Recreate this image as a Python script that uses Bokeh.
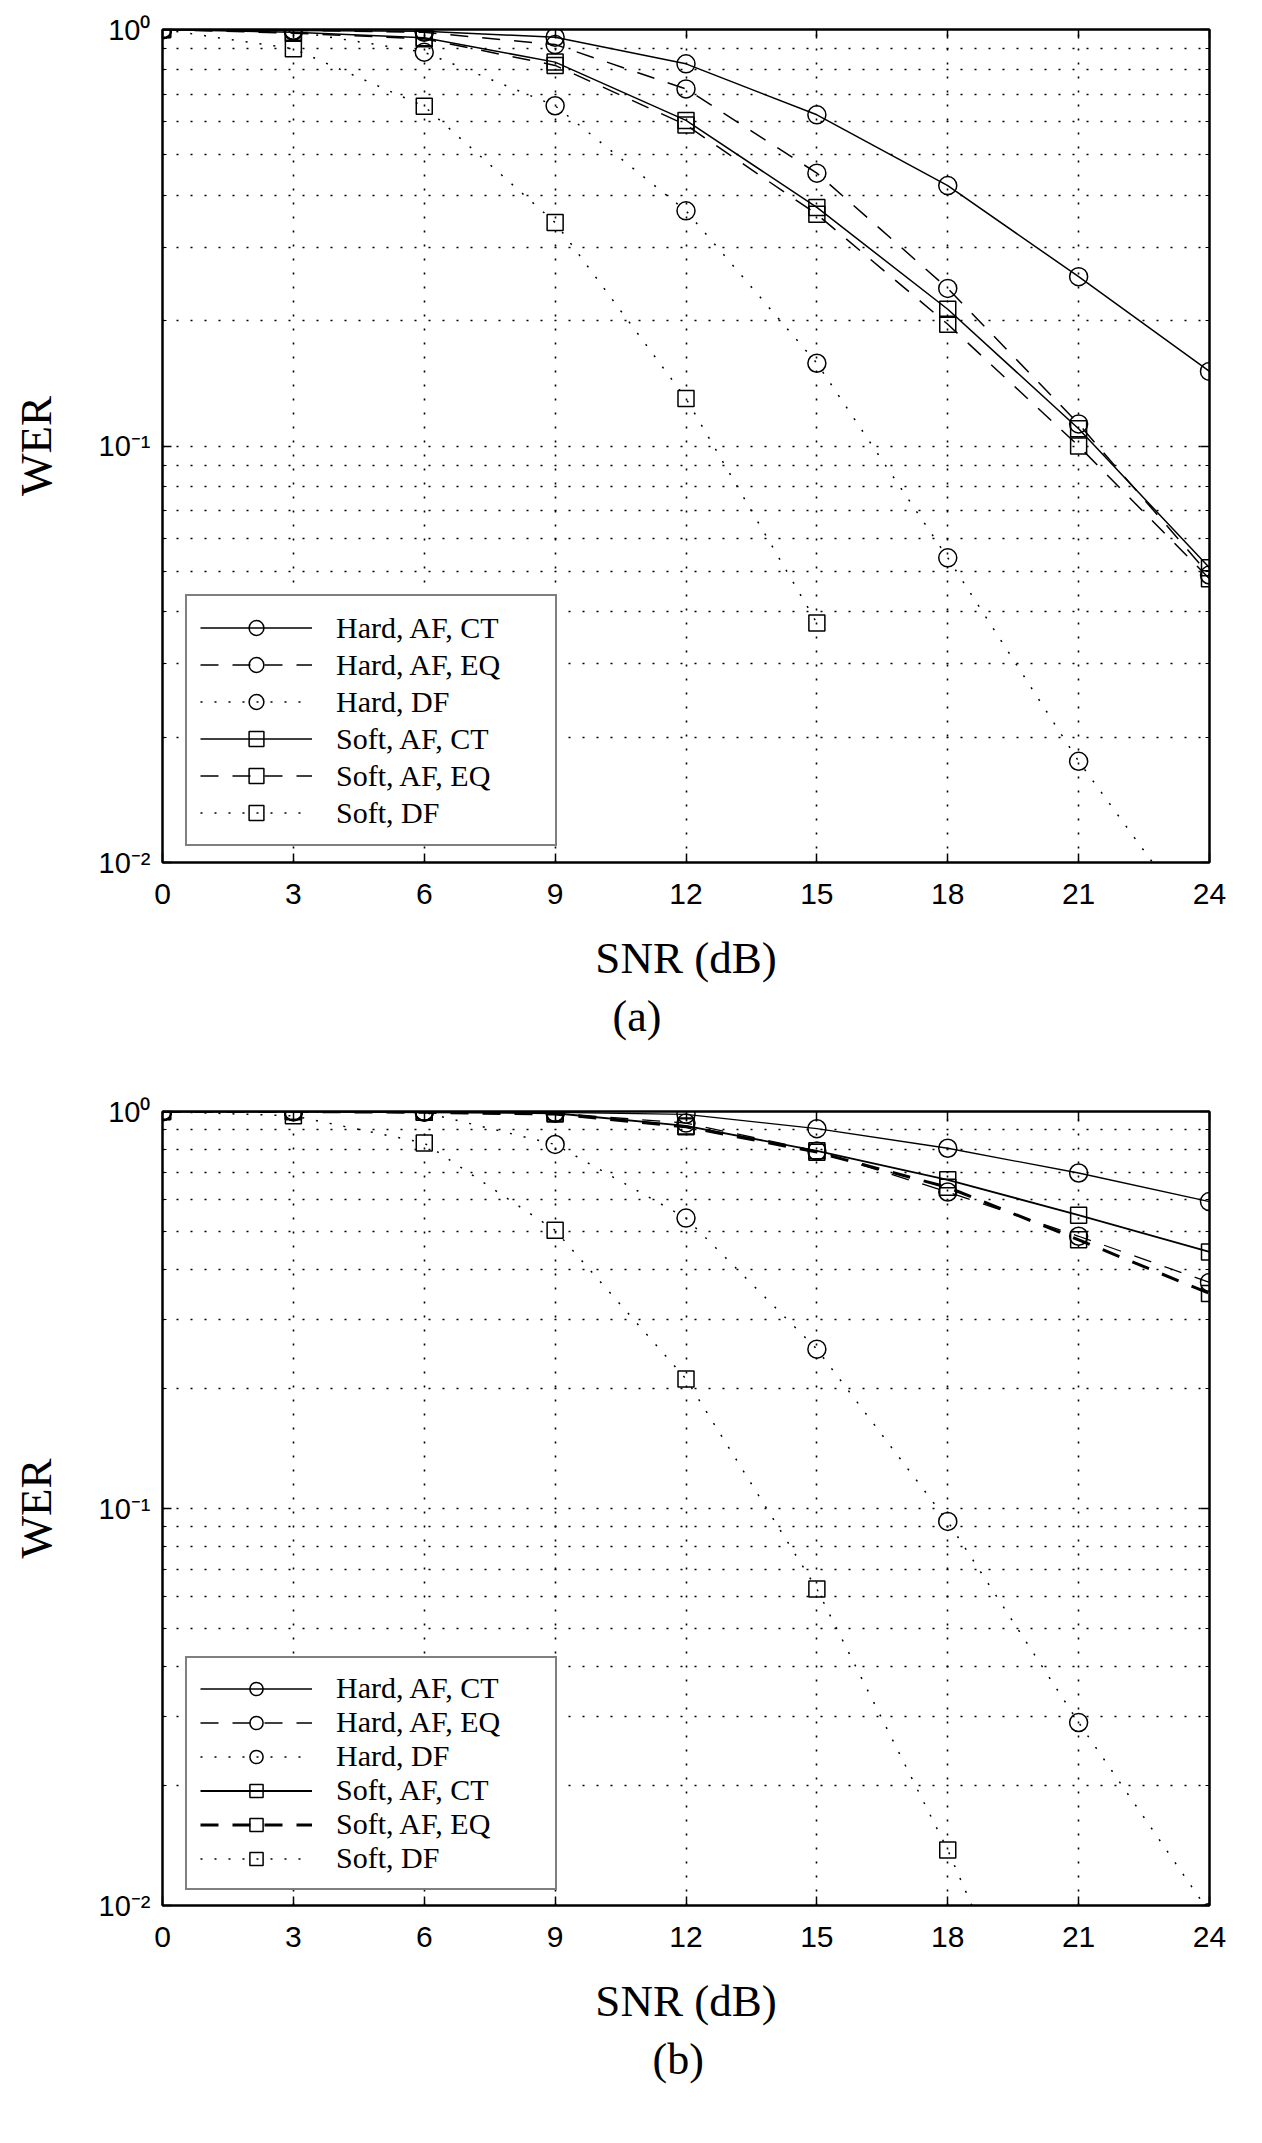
from bokeh.plotting import figure
from bokeh.models import FixedTicker, LinearAxis, LogAxis, Legend, LegendItem, Title, Range1d
from bokeh.layouts import column
from bokeh.embed import file_html
from bokeh.resources import INLINE

snr = [0, 3, 6, 9, 12, 15, 18, 21, 24]
x_ticks = [0, 3, 6, 9, 12, 15, 18, 21, 24]
y_major = [0.01, 0.1, 1.0]
y_minor = [0.02, 0.03, 0.04, 0.05, 0.06, 0.07, 0.08, 0.09,
           0.2, 0.3, 0.4, 0.5, 0.6, 0.7, 0.8, 0.9]
y_labels = {0.01: "10\u207b\u00b2", 0.1: "10\u207b\u00b9", 1.0: "10\u2070"}
labels = ["Hard, AF, CT", "Hard, AF, EQ", "Hard, DF",
          "Soft, AF, CT", "Soft, AF, EQ", "Soft, DF"]

# (a)
a_hard_af_ct = [1.0, 0.995, 0.99, 0.958, 0.827, 0.624, 0.422, 0.255, 0.151]
a_hard_af_eq = [1.0, 0.995, 0.985, 0.92, 0.72, 0.452, 0.239, 0.113, 0.049]
a_hard_df = [1.0, 0.99, 0.882, 0.656, 0.367, 0.158, 0.0539, 0.0175, 0.0065]
a_soft_af_ct = [1.0, 0.985, 0.955, 0.835, 0.605, 0.374, 0.213, 0.110, 0.051]
a_soft_af_eq = [1.0, 0.98, 0.95, 0.82, 0.59, 0.36, 0.196, 0.100, 0.048]
a_soft_df_snr = [0, 3, 6, 9, 12, 15]
a_soft_df = [1.0, 0.899, 0.654, 0.344, 0.130, 0.0376]

# (b)
b_hard_af_ct = [1.0, 1.0, 1.0, 0.995, 0.984, 0.905, 0.808, 0.70, 0.593]
b_hard_af_eq = [1.0, 1.0, 1.0, 0.99, 0.935, 0.795, 0.627, 0.485, 0.371]
b_hard_df = [1.0, 1.0, 0.995, 0.826, 0.539, 0.252, 0.0928, 0.0289, 0.0096]
b_soft_af_ct = [1.0, 1.0, 0.995, 0.99, 0.92, 0.796, 0.673, 0.548, 0.443]
b_soft_af_eq = [1.0, 1.0, 0.995, 0.985, 0.915, 0.79, 0.644, 0.475, 0.348]
b_soft_df_snr = [0, 3, 6, 9, 12, 15, 18, 21]
b_soft_df = [1.0, 0.975, 0.833, 0.502, 0.212, 0.0627, 0.0138, 0.0024]

SANS = "Liberation Sans"
SERIF = "Liberation Serif"


def make_plot(series, height, top_border, frame_h, legend_loc, legend_row,
              caption, cap_offset):
    p = figure(width=1246, height=height, y_axis_type="log",
               x_range=Range1d(0, 24), y_range=Range1d(0.01, 1.0),
               output_backend="svg", toolbar_location=None,
               min_border_left=162, min_border_right=37,
               min_border_top=top_border,
               min_border_bottom=height - top_border - frame_h)
    p.background_fill_color = "white"
    p.border_fill_color = "white"
    p.outline_line_color = "black"
    p.outline_line_width = 2

    xt = FixedTicker(ticks=x_ticks, minor_ticks=[])
    yt = FixedTicker(ticks=y_major, minor_ticks=y_minor)

    p.xaxis.ticker = xt
    p.yaxis.ticker = yt
    p.yaxis.major_label_overrides = y_labels
    for ax in (p.xaxis[0], p.yaxis[0]):
        ax.axis_line_color = "black"
        ax.axis_line_width = 2
        ax.major_tick_in = 9
        ax.major_tick_out = 0
        ax.minor_tick_in = 4
        ax.minor_tick_out = 0
        ax.major_tick_line_color = "black"
        ax.minor_tick_line_color = "black"
        ax.major_tick_line_width = 1.5
        ax.major_label_text_font = SANS
        ax.major_label_text_color = "black"
        ax.axis_label_text_font = SERIF
        ax.axis_label_text_font_style = "normal"
        ax.axis_label_text_font_size = "45px"
        ax.axis_label_text_color = "black"
    p.xaxis.major_label_text_font_size = "30px"
    p.yaxis.major_label_text_font_size = "29px"
    p.xaxis.major_label_standoff = 21
    p.yaxis.major_label_standoff = 12
    p.xaxis.axis_label = "SNR (dB)"
    p.yaxis.axis_label = "WER"
    p.xaxis.axis_label_standoff = 26
    p.yaxis.axis_label_standoff = 35

    top = LinearAxis(ticker=xt, major_label_text_color=None,
                     axis_line_width=2, major_tick_in=9, major_tick_out=0,
                     major_tick_line_width=1.5)
    right = LogAxis(ticker=yt, major_label_text_color=None,
                    axis_line_width=2, major_tick_in=9, major_tick_out=0,
                    minor_tick_in=4, minor_tick_out=0,
                    major_tick_line_width=1.5)
    p.add_layout(top, "above")
    p.add_layout(right, "right")

    for g in (p.xgrid[0], p.ygrid[0]):
        g.grid_line_color = "black"
        g.grid_line_dash = "2 12"
        g.grid_line_width = 1.6
    p.ygrid.minor_grid_line_color = "black"
    p.ygrid.minor_grid_line_dash = "2 12"
    p.ygrid.minor_grid_line_width = 1.6

    items = []
    for (label, xs, ys, dash, lw, marker) in series:
        lr = p.line(xs, ys, line_color="black", line_width=lw, line_dash=dash)
        msize = 18 if marker == "circle" else 16
        sr = p.scatter(xs, ys, marker=marker, size=msize, fill_color=None,
                       line_color="black", line_width=1.5)
        items.append(LegendItem(label=label, renderers=[lr, sr]))

    legend = Legend(items=items, location=legend_loc,
                    label_text_font=SERIF, label_text_font_size="30px",
                    label_text_color="black",
                    glyph_width=112, glyph_height=legend_row,
                    label_height=legend_row, padding=13, spacing=0,
                    label_standoff=24, label_width=206, margin=0,
                    border_line_color="black", border_line_width=2,
                    background_fill_color="white", background_fill_alpha=1)
    p.add_layout(legend, "center")

    p.add_layout(Title(text=caption, align="left", offset=cap_offset,
                       text_font=SERIF, text_font_size="44px",
                       text_font_style="normal", text_color="black",
                       standoff=8), "below")
    return p


DASH = "18 14"
DOT = "2 12"

series_a = [
    (labels[0], snr, a_hard_af_ct, "solid", 1.5, "circle"),
    (labels[1], snr, a_hard_af_eq, DASH, 1.5, "circle"),
    (labels[2], snr, a_hard_df, DOT, 1.5, "circle"),
    (labels[3], snr, a_soft_af_ct, "solid", 1.5, "square"),
    (labels[4], snr, a_soft_af_eq, DASH, 1.5, "square"),
    (labels[5], a_soft_df_snr, a_soft_df, DOT, 1.5, "square"),
]
series_b = [
    (labels[0], snr, b_hard_af_ct, "solid", 1.3, "circle"),
    (labels[1], snr, b_hard_af_eq, DASH, 1.3, "circle"),
    (labels[2], snr, b_hard_df, DOT, 1.5, "circle"),
    (labels[3], snr, b_soft_af_ct, "solid", 1.8, "square"),
    (labels[4], snr, b_soft_af_eq, DASH, 3.0, "square"),
    (labels[5], b_soft_df_snr, b_soft_df, DOT, 1.5, "square"),
]

p1 = make_plot(series_a, 1072, 29, 833, (23, 16), 37, "(a)", 450)
p2 = make_plot(series_b, 1050, 39, 794, (23, 15), 33, "(b)", 490)

layout = column(p1, p2)
open("out.html", "w").write(file_html(layout, INLINE))
